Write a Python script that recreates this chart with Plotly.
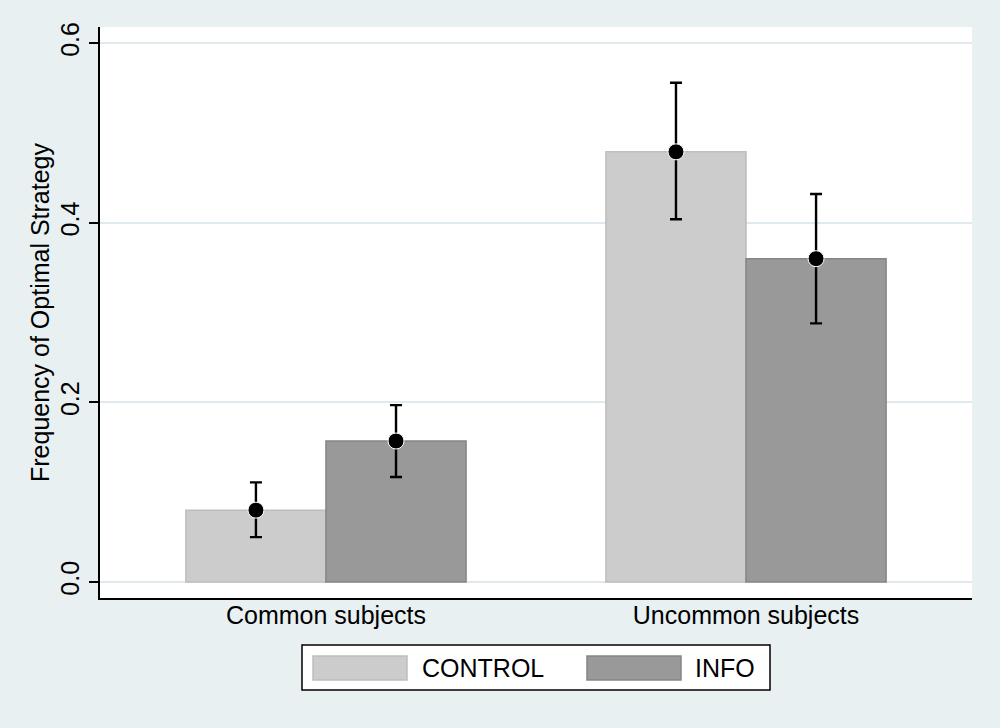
import plotly.graph_objects as go

categories = ["Common subjects", "Uncommon subjects"]
control_mean = [0.080, 0.479]
control_low = [0.050, 0.404]
control_high = [0.111, 0.556]
info_mean = [0.157, 0.360]
info_low = [0.117, 0.288]
info_high = [0.197, 0.432]
y_ticks = [0.0, 0.2, 0.4, 0.6]
y_tick_labels = ["0.0", "0.2", "0.4", "0.6"]

FONT = "Liberation Sans, Arial, Helvetica, sans-serif"
BG = "#E8F0F2"
GRID = "#E0EAEE"
C_CTRL, L_CTRL = "#CCCCCC", "#BDBDBD"
C_INFO, L_INFO = "#999999", "#858585"

fig = go.Figure()
fig.add_trace(go.Bar(x=categories, y=control_mean, name="CONTROL", offsetgroup="c",
                     marker=dict(color=C_CTRL, line=dict(color=L_CTRL, width=1.5)),
                     showlegend=False))
fig.add_trace(go.Bar(x=categories, y=info_mean, name="INFO", offsetgroup="i",
                     marker=dict(color=C_INFO, line=dict(color=L_INFO, width=1.5)),
                     showlegend=False))

for mean, lo, hi, grp in [(control_mean, control_low, control_high, "c"),
                          (info_mean, info_low, info_high, "i")]:
    fig.add_trace(go.Scatter(
        x=categories, y=mean, mode="markers", offsetgroup=grp, showlegend=False,
        marker=dict(color="black", size=16, line=dict(color="white", width=1)),
        error_y=dict(type="data", symmetric=False,
                     array=[h - m for h, m in zip(hi, mean)],
                     arrayminus=[m - l for m, l in zip(mean, lo)],
                     color="black", thickness=2.4, width=6),
    ))

fig.update_layout(
    width=1000, height=728,
    paper_bgcolor=BG, plot_bgcolor="white",
    margin=dict(l=100, r=28, t=27, b=130),
    barmode="group", bargap=0.333, bargroupgap=0,
    scattermode="group",
    font=dict(family=FONT, size=25, color="black"),
    xaxis=dict(range=[-0.538, 1.538], showgrid=False, showline=True, linecolor="black",
               linewidth=1.5, ticks="", tickfont=dict(size=25), zeroline=False,
               ticklabelstandoff=-6),
    yaxis=dict(range=[-0.0178, 0.618], tickvals=y_ticks, ticktext=y_tick_labels,
               tickangle=-90, ticks="outside", ticklen=9, tickcolor="black", tickwidth=1.5,
               showline=True, linecolor="black", linewidth=1.5,
               showgrid=True, gridcolor=GRID, gridwidth=1.5, zeroline=False,
               tickfont=dict(size=25),
               title=dict(text="Frequency of Optimal Strategy", font=dict(size=25), standoff=0)),
)

# custom legend (box with wide swatches)
def px_x(px):
    return (px - 100) / 872.0

def px_y(py):
    return (598 - py) / 571.0

shapes = [
    dict(type="rect", xref="paper", yref="paper", x0=px_x(302), x1=px_x(770),
         y0=px_y(690), y1=px_y(645), fillcolor="white", line=dict(color="black", width=1.5)),
    dict(type="rect", xref="paper", yref="paper", x0=px_x(313), x1=px_x(407),
         y0=px_y(680), y1=px_y(656), fillcolor=C_CTRL, line=dict(color=L_CTRL, width=1.5)),
    dict(type="rect", xref="paper", yref="paper", x0=px_x(587), x1=px_x(681),
         y0=px_y(680), y1=px_y(656), fillcolor=C_INFO, line=dict(color=L_INFO, width=1.5)),
]
fig.update_layout(shapes=shapes)
fig.add_annotation(xref="paper", yref="paper", x=px_x(420), y=px_y(668), text="CONTROL",
                   showarrow=False, xanchor="left", yanchor="middle", font=dict(size=25))
fig.add_annotation(xref="paper", yref="paper", x=px_x(693), y=px_y(668), text="INFO",
                   showarrow=False, xanchor="left", yanchor="middle", font=dict(size=25))

fig.write_html("out.html", config={"displayModeBar": False},
               post_script="document.body.style.margin='0';document.body.style.padding='0';")
